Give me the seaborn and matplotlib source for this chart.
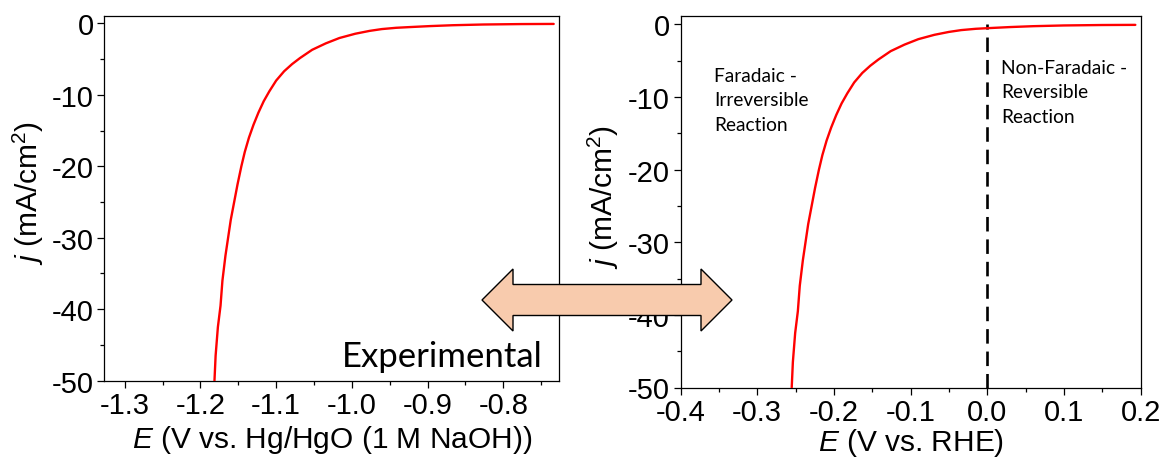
import numpy as np
import pandas as pd
import matplotlib
matplotlib.use("Agg")
import matplotlib.pyplot as plt
import matplotlib.patches as mpatches
from matplotlib.ticker import MultipleLocator, FormatStrFormatter
import seaborn as sns

# ---- data ----
E_rhe = [-0.255, -0.2535, -0.2505, -0.247, -0.2445, -0.2405, -0.237, -0.2335, -0.229,
         -0.2245, -0.2195, -0.215, -0.2095, -0.2035, -0.197, -0.190, -0.1825, -0.1735,
         -0.163, -0.1525, -0.142, -0.126, -0.108, -0.090, -0.069, -0.050, -0.034,
         -0.015, 0.003, 0.030, 0.060, 0.100, 0.150, 0.193]
j_vals = [-50.0, -46.5, -42.5, -39.5, -36.0, -32.5, -30.0, -27.5, -25.0,
          -22.5, -20.0, -18.0, -16.0, -14.2, -12.5, -10.9, -9.5, -8.0,
          -6.7, -5.7, -4.85, -3.7, -2.8, -2.05, -1.45, -1.05, -0.8,
          -0.62, -0.52, -0.38, -0.26, -0.16, -0.10, -0.08]
RHE_OFFSET = 0.9265  # E(Hg/HgO, 1 M NaOH) = E(RHE) - offset
E_hg = [e - RHE_OFFSET for e in E_rhe]

left_xticks = [-1.3, -1.2, -1.1, -1.0, -0.9, -0.8]
right_xticks = [-0.4, -0.3, -0.2, -0.1, 0.0, 0.1, 0.2]
yticks = [0, -10, -20, -30, -40, -50]

df_left = pd.DataFrame({"E": E_hg, "j": j_vals})
df_right = pd.DataFrame({"E": E_rhe, "j": j_vals})

sns.set_theme(style="ticks")
plt.rcParams["font.family"] = ["Liberation Sans", "DejaVu Sans"]
plt.rcParams["axes.unicode_minus"] = False
plt.rcParams["mathtext.fontset"] = "custom"
plt.rcParams["mathtext.rm"] = "Liberation Sans"
plt.rcParams["mathtext.it"] = "Liberation Sans:italic"

W, H = 1164, 460
fig = plt.figure(figsize=(W / 100, H / 100), dpi=100)

def px_axes(l, t, r, b):
    return fig.add_axes([l / W, 1 - b / H, (r - l) / W, (b - t) / H])

axL = px_axes(104.3, 16.5, 559, 381.7)
axR = px_axes(680.5, 17.3, 1140.7, 388.5)

TICK_FS = 21
LABEL_FS = 21.5

for ax, df, xl, xticks in [(axL, df_left, (-1.327, -0.7265), left_xticks),
                           (axR, df_right, (-0.4, 0.2), right_xticks)]:
    sns.lineplot(data=df, x="E", y="j", ax=ax, color="#ff0000", linewidth=1.7,
                 sort=False, estimator=None, legend=False, zorder=3)
    ax.set_xlim(*xl)
    ax.set_ylim(-50, 1.1)
    ax.set_xticks(xticks)
    ax.set_yticks(yticks)
    ax.xaxis.set_major_formatter(FormatStrFormatter("%.1f"))
    ax.xaxis.set_minor_locator(MultipleLocator(0.05))
    ax.yaxis.set_minor_locator(MultipleLocator(5))
    ax.tick_params(axis="both", which="major", direction="out", length=5, width=0.9,
                   labelsize=TICK_FS, color="black", labelcolor="black", pad=2.5)
    ax.tick_params(axis="both", which="minor", direction="out", length=2.8, width=0.9,
                   color="black")
    ax.tick_params(top=False, right=False, which="both")
    for s in ax.spines.values():
        s.set_visible(True)
        s.set_linewidth(0.9)
        s.set_color("black")
    ax.set_ylabel(r"$j$ (mA/cm$^2$)", fontsize=LABEL_FS, color="black")
    ax.set_facecolor("white")

axL.set_xlabel(r"$E$ (V vs. Hg/HgO (1 M NaOH))", fontsize=LABEL_FS, color="black", labelpad=3)
axR.set_xlabel(r"$E$ (V vs. RHE)", fontsize=LABEL_FS, color="black", labelpad=0)
axL.yaxis.set_label_coords(-0.128, 0.516)
axR.yaxis.set_label_coords(-0.130, 0.516)

# dashed boundary at 0 V vs RHE
axR.vlines(0.0, -50, 0, colors="black", linestyles=(0, (5.5, 3)), linewidth=1.9, zorder=2)

TXT_FONT = ["Lato", "DejaVu Sans"]
axL.text(0.963, 0.04, "Experimental", transform=axL.transAxes, ha="right",
         va="baseline", fontsize=25, family=TXT_FONT, color="black")
axR.text(0.073, 0.864, "Faradaic -\nIrreversible\nReaction", transform=axR.transAxes,
         ha="left", va="top", fontsize=13.8, linespacing=1.55,
         family=TXT_FONT, color="black")
axR.text(0.696, 0.886, "Non-Faradaic -\nReversible\nReaction", transform=axR.transAxes,
         ha="left", va="top", fontsize=13.8, linespacing=1.55,
         family=TXT_FONT, color="black")

# double-headed arrow between panels (figure pixel geometry)
x0, x1, yc = 482, 732, 301
body_h, head_h, head_l = 15.5, 31, 31
pts = [(x0, yc), (x0 + head_l, yc - head_h), (x0 + head_l, yc - body_h),
       (x1 - head_l, yc - body_h), (x1 - head_l, yc - head_h), (x1, yc),
       (x1 - head_l, yc + head_h), (x1 - head_l, yc + body_h),
       (x0 + head_l, yc + body_h), (x0 + head_l, yc + head_h)]
pts = [(x / W, 1 - y / H) for x, y in pts]
arrow = mpatches.Polygon(pts, closed=True, facecolor="#f8cbad", edgecolor="black",
                         linewidth=1.0, transform=fig.transFigure, zorder=10)
fig.patches.append(arrow)

fig.savefig("out.png", dpi=100, facecolor="white")
